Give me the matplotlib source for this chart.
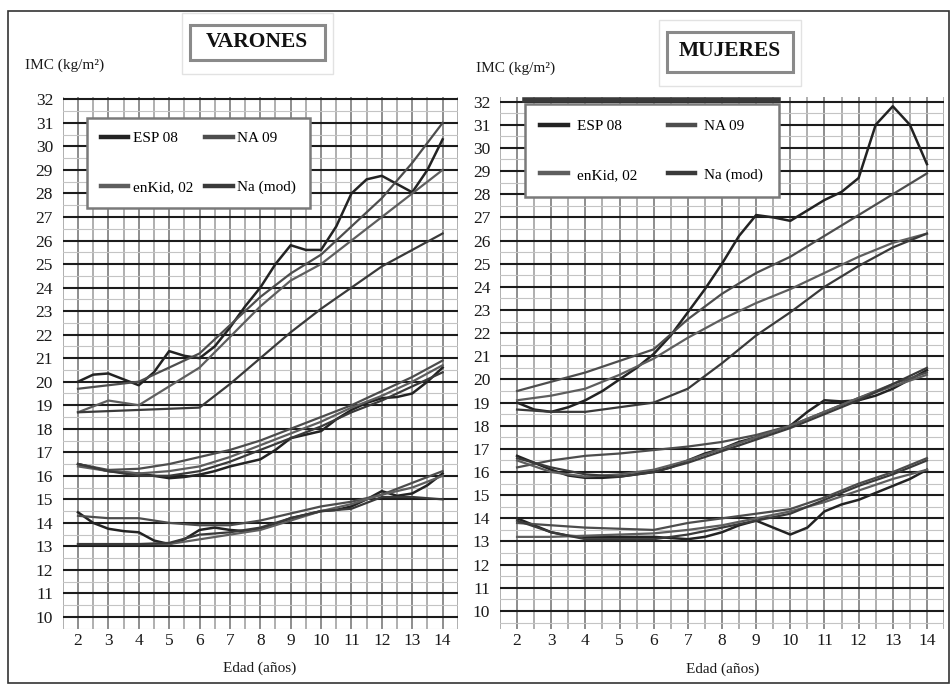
import matplotlib
matplotlib.use("Agg")
import matplotlib.pyplot as plt
from matplotlib.patches import Rectangle
import numpy as np

plt.rcParams['font.family'] = ['Liberation Serif', 'DejaVu Serif']

# ---------------- data ----------------
edades = [2, 3, 4, 5, 6, 7, 8, 9, 10, 11, 12, 13, 14]
edades_media = [2, 2.5, 3, 3.5, 4, 4.5, 5, 5.5, 6, 6.5, 7, 7.5, 8, 8.5,
                9, 9.5, 10, 10.5, 11, 11.5, 12, 12.5, 13, 13.5, 14]
x_ticks = [2, 3, 4, 5, 6, 7, 8, 9, 10, 11, 12, 13, 14]
y_ticks = list(range(10, 33))
series = ["ESP 08", "NA 09", "enKid, 02", "Na (mod)"]

# VARONES (three reference curves per series: alto / medio / bajo)
var_esp08_alto = [20.0, 20.3, 20.35, 20.1, 19.85, 20.4, 21.3, 21.1, 21.0, 21.5, 22.3, 23.2,
                  24.0, 25.0, 25.8, 25.6, 25.6, 26.6, 28.0, 28.6, 28.75, 28.4, 28.05, 29.0, 30.3]
var_esp08_medio = [16.5, 16.35, 16.2, 16.15, 16.1, 16.0, 15.9, 15.95, 16.05, 16.2, 16.4, 16.55,
                   16.7, 17.1, 17.6, 17.75, 17.9, 18.4, 18.8, 19.1, 19.3, 19.35, 19.5, 20.0, 20.6]
var_esp08_bajo = [14.45, 14.0, 13.75, 13.65, 13.6, 13.25, 13.1, 13.3, 13.7, 13.8, 13.7, 13.65,
                  13.75, 13.95, 14.2, 14.35, 14.5, 14.55, 14.7, 15.0, 15.35, 15.15, 15.25, 15.6, 16.1]
var_na09_alto = [19.7, 19.85, 20.0, 20.6, 21.2, 22.4, 23.6, 24.6, 25.4, 26.6, 27.8, 29.3, 31.0]
var_na09_medio = [16.5, 16.25, 16.3, 16.5, 16.8, 17.1, 17.5, 18.0, 18.5, 19.0, 19.6, 20.2, 20.9]
var_na09_bajo = [14.3, 14.2, 14.2, 14.0, 13.9, 13.9, 14.1, 14.4, 14.7, 14.9, 15.2, 15.7, 16.2]
var_enkid_alto = [18.7, 19.2, 19.0, 19.8, 20.6, 21.9, 23.2, 24.3, 25.0, 26.0, 27.0, 28.0, 29.0]
var_enkid_medio = [16.4, 16.2, 16.1, 16.2, 16.4, 16.8, 17.3, 17.8, 18.3, 18.9, 19.4, 20.0, 20.7]
var_enkid_bajo = [13.1, 13.1, 13.1, 13.1, 13.3, 13.5, 13.7, 14.1, 14.5, 14.8, 15.2, 15.5, 16.0]
var_namod_alto = [18.7, 18.75, 18.8, 18.85, 18.9, 19.9, 21.0, 22.1, 23.1, 24.0, 24.9, 25.6, 26.3]
var_namod_medio = [16.5, 16.2, 16.0, 16.0, 16.2, 16.6, 17.1, 17.6, 18.1, 18.7, 19.2, 19.8, 20.4]
var_namod_bajo = [13.1, 13.1, 13.1, 13.15, 13.5, 13.6, 13.8, 14.2, 14.5, 14.6, 15.1, 15.1, 15.0]

# MUJERES
muj_esp08_alto = [19.0, 18.7, 18.6, 18.8, 19.1, 19.5, 20.0, 20.5, 21.1, 21.9, 22.9, 23.9,
                  25.0, 26.2, 27.1, 27.0, 26.85, 27.3, 27.75, 28.1, 28.7, 31.0, 31.8, 31.0, 29.3]
muj_esp08_medio = [16.7, 16.4, 16.1, 15.85, 15.75, 15.75, 15.8, 15.9, 16.0, 16.2, 16.5, 16.8,
                   17.0, 17.3, 17.5, 17.75, 18.0, 18.6, 19.1, 19.05, 19.1, 19.3, 19.6, 20.0, 20.4]
muj_esp08_bajo = [14.0, 13.7, 13.4, 13.25, 13.2, 13.2, 13.2, 13.2, 13.2, 13.15, 13.1, 13.2,
                  13.4, 13.7, 13.9, 13.6, 13.3, 13.6, 14.3, 14.6, 14.8, 15.1, 15.4, 15.7, 16.1]
muj_na09_alto = [19.5, 19.9, 20.3, 20.8, 21.3, 22.6, 23.7, 24.6, 25.3, 26.2, 27.1, 28.0, 28.9]
muj_na09_medio = [16.2, 16.5, 16.7, 16.8, 16.95, 17.1, 17.3, 17.6, 18.0, 18.6, 19.2, 19.8, 20.3]
muj_na09_bajo = [13.8, 13.7, 13.6, 13.55, 13.5, 13.8, 14.0, 14.2, 14.4, 14.9, 15.5, 16.0, 16.6]
muj_enkid_alto = [19.1, 19.3, 19.6, 20.2, 20.9, 21.8, 22.6, 23.3, 23.9, 24.6, 25.3, 25.9, 26.3]
muj_enkid_medio = [16.5, 16.0, 15.8, 15.9, 16.1, 16.5, 17.0, 17.5, 18.0, 18.6, 19.2, 19.7, 20.2]
muj_enkid_bajo = [13.2, 13.2, 13.25, 13.3, 13.35, 13.5, 13.7, 14.0, 14.3, 14.7, 15.2, 15.7, 16.1]
muj_namod_alto = [18.7, 18.6, 18.6, 18.8, 19.0, 19.6, 20.7, 21.9, 22.9, 24.0, 24.9, 25.7, 26.3]
muj_namod_medio = [16.6, 16.2, 15.9, 15.8, 16.0, 16.4, 16.9, 17.4, 17.9, 18.5, 19.1, 19.8, 20.5]
muj_namod_bajo = [13.9, 13.4, 13.1, 13.1, 13.1, 13.3, 13.6, 13.9, 14.2, 14.8, 15.4, 15.9, 16.5]

colores = {"ESP 08": "#232323", "NA 09": "#4d4d4d", "enKid, 02": "#5e5e5e", "Na (mod)": "#3a3a3a"}

paneles = [
    ("VARONES", {
        "ESP 08": (edades_media, [var_esp08_alto, var_esp08_medio, var_esp08_bajo]),
        "NA 09": (edades, [var_na09_alto, var_na09_medio, var_na09_bajo]),
        "enKid, 02": (edades, [var_enkid_alto, var_enkid_medio, var_enkid_bajo]),
        "Na (mod)": (edades, [var_namod_alto, var_namod_medio, var_namod_bajo]),
    }),
    ("MUJERES", {
        "ESP 08": (edades_media, [muj_esp08_alto, muj_esp08_medio, muj_esp08_bajo]),
        "NA 09": (edades, [muj_na09_alto, muj_na09_medio, muj_na09_bajo]),
        "enKid, 02": (edades, [muj_enkid_alto, muj_enkid_medio, muj_enkid_bajo]),
        "Na (mod)": (edades, [muj_namod_alto, muj_namod_medio, muj_namod_bajo]),
    }),
]

# legend is filled column by column -> rows (ESP 08, NA 09) / (enKid, 02, Na (mod))
orden_leyenda = ["ESP 08", "enKid, 02", "NA 09", "Na (mod)"]
fuente = {"family": ["Liberation Serif", "DejaVu Serif"], "size": 11}

# ---------------- figure ----------------
fig = plt.figure(figsize=(9.5, 6.84), dpi=100)
fig.patch.set_facecolor("white")

fig.patches.append(Rectangle((8 / 950, 1 / 684), 941 / 950, 672 / 684, transform=fig.transFigure,
                             fill=False, ec="#333333", lw=1.2))

axes_pos = [[0.0661, 0.0804, 0.4158, 0.7778], [0.5263, 0.0804, 0.4674, 0.7778]]
ylims = [(9.49, 32.1), (9.22, 32.2)]
leg_anchor = [(0.061, 0.961), (0.056, 0.987)]
leg_style = [dict(handletextpad=0.3, columnspacing=0.8, borderpad=0.9),
             dict(handletextpad=0.6, columnspacing=2.0, borderpad=1.0)]
title_pos = [(257 / 950, 1 - 42 / 684), (730 / 950, 1 - 51 / 684)]
title_box = [(190, 25, 135, 35), (667, 32, 126, 40)]
imc_pos = [(25 / 950, 1 - 65 / 684), (476 / 950, 1 - 68 / 684)]
edad_pos = [(260 / 950, 1 - 668 / 684), (723 / 950, 1 - 669 / 684)]

for i, (titulo, datos) in enumerate(paneles):
    ax = fig.add_axes(axes_pos[i])
    ax.set_xlim(1.5, 14.5)
    ax.set_ylim(*ylims[i])
    for s in ax.spines.values():
        s.set_visible(False)

    for xv in np.arange(1.5, 14.51, 0.5):
        ax.axvline(xv, color="#6f6f6f" if xv % 1 == 0 else "#9a9a9a", lw=1.1, zorder=0)
    for yv in np.arange(9.5, 32.01, 0.5):
        if yv % 1 == 0:
            ax.axhline(yv, color="#1c1c1c", lw=1.5, zorder=0.5)
        else:
            ax.axhline(yv, color="#c4c4c4", lw=0.8, zorder=0.2)

    ax.set_xticks(x_ticks)
    ax.set_yticks(y_ticks)
    ax.tick_params(axis="both", length=0, labelsize=12.5, colors="#1a1a1a")
    ax.tick_params(axis="y", pad=7)
    ax.tick_params(axis="x", pad=3)

    handles = {}
    for nombre in series:
        xs, curvas = datos[nombre]
        lw = 1.8 if nombre == "ESP 08" else 1.6
        for k, c in enumerate(curvas):
            ln, = ax.plot(xs, c, color=colores[nombre], lw=lw, zorder=3,
                          solid_joinstyle="round")
            if k == 0:
                handles[nombre] = ln

    leg = ax.legend(handles=[handles[n] for n in orden_leyenda], labels=orden_leyenda, ncol=2,
                    loc="upper left", bbox_to_anchor=leg_anchor[i], prop=fuente,
                    frameon=True, fancybox=False, framealpha=1, edgecolor="#7a7a7a",
                    labelspacing=2.3, handlelength=1.8, borderaxespad=0, **leg_style[i])
    leg.get_frame().set_linewidth(1.8)
    for lh in leg.legend_handles:
        lh.set_linewidth(3.2)
    leg.set_zorder(10)

    if i == 1:
        ax.axhline(32.05, xmin=0.056, xmax=0.626, color="#3a3a3a", lw=4, zorder=11)

    bx, by, bw, bh = title_box[i]
    fig.patches.append(Rectangle((bx / 950, 1 - (by + bh) / 684), bw / 950, bh / 684,
                                 transform=fig.transFigure, fill=False, ec="#8a8a8a", lw=2.2))
    fig.patches.append(Rectangle(((bx - 8) / 950, 1 - (by + bh + 14) / 684), (bw + 16) / 950,
                                 (bh + 26) / 684, transform=fig.transFigure, fill=False,
                                 ec="#e2e2e2", lw=1.0))
    fig.text(title_pos[i][0], title_pos[i][1], titulo, ha="center", va="center",
             fontsize=15.5, fontweight="bold", color="#111111")
    fig.text(imc_pos[i][0], imc_pos[i][1], "IMC (kg/m²)", ha="left", va="center",
             fontsize=11, color="#1a1a1a")
    fig.text(edad_pos[i][0], edad_pos[i][1], "Edad (años)", ha="center", va="center",
             fontsize=11, color="#1a1a1a")

fig.savefig("out.png", dpi=100, facecolor="white")
